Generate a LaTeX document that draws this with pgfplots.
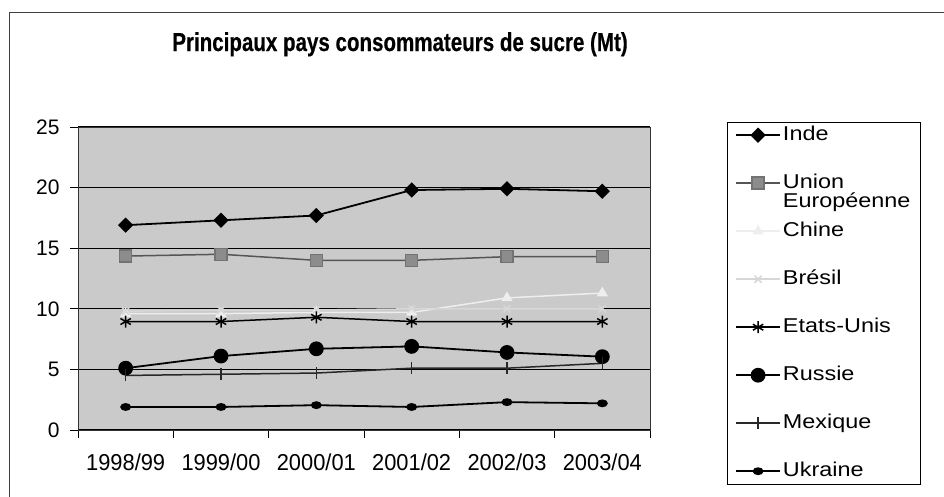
\documentclass[border=0pt]{standalone}
\usepackage{fontspec}
\setmainfont{Liberation Sans}
\newfontfamily\condfont[FakeStretch=0.95]{Liberation Sans}
\newfontfamily\titlefont[FakeStretch=0.79,FakeBold=0.4]{Liberation Sans}
\newfontfamily\legfont[FakeStretch=1.17]{Liberation Sans}
\usepackage{pgfplots}
\pgfplotsset{compat=1.18}
\definecolor{plotbg}{RGB}{202,202,202}
\definecolor{uegray}{RGB}{85,85,85}
\definecolor{uefill}{RGB}{140,140,140}
\definecolor{chinec}{RGB}{238,238,238}
\definecolor{bresilc}{RGB}{215,215,215}
\definecolor{mexc}{RGB}{40,40,40}
\begin{document}
\begin{tikzpicture}
\useasboundingbox (0,0) rectangle (944pt,496pt);
\begin{scope}
\clip (0,0) rectangle (944pt,496pt);
\draw[line width=1pt, black!75] (9pt,-30pt) rectangle (990pt,483pt);
\end{scope}
\begin{axis}[
  at={(78pt,66pt)}, anchor=south west,
  scale only axis, width=572pt, height=303pt,
  xmin=-0.5, xmax=5.5, ymin=0, ymax=25,
  axis background/.style={fill=plotbg},
  axis line style={draw=black!80, line width=0.9pt},
  ytick={0,5,...,25}, ymajorgrids,
  grid style={black, line width=1.1pt},
  tick align=outside, xtick pos=bottom, ytick pos=left,
  major tick length=8pt,
  tick style={black, line width=0.8pt},
  /pgf/number format/assume math mode=true,
  yticklabel style={font=\fontsize{21}{24}\selectfont, xshift=-7pt},
  xtick={-0.5,0.5,...,5.5}, xticklabels={},
  extra x ticks={0,1,2,3,4,5},
  extra x tick labels={1998/99,1999/00,2000/01,2001/02,2002/03,2003/04},
  extra x tick style={major tick length=0pt, grid=none},
  xticklabel style={font=\condfont\fontsize{23}{25}\selectfont, yshift=-20pt},
  title={Principaux pays consommateurs de sucre (Mt)},
  title style={at={(0.563,1.231)}, anchor=base, font=\titlefont\bfseries\fontsize{26}{28}\selectfont},
  legend style={at={(1.1346,1.0165)}, anchor=north west, draw=black, fill=white,
    inner xsep=8pt, inner ysep=1pt, row sep=24pt,
    font=\legfont\fontsize{20}{21}\selectfont,
    nodes={inner sep=2pt, text height=15pt, text depth=5pt},
    /tikz/every even column/.append style={column sep=2pt}},
  legend cell align=left,
  legend image code/.code={\draw[mark repeat=2,mark phase=2,#1] plot coordinates {(0pt,0pt) (22pt,0pt) (44pt,0pt)};},
]
\addplot[black, line width=1.8pt, mark=square*, mark size=4.5pt, mark options={rotate=45}]
  coordinates {(0,16.9) (1,17.3) (2,17.7) (3,19.8) (4,19.9) (5,19.7)};
\addlegendentry{Inde}
\addplot[uegray, line width=1.5pt, mark=square*, mark size=6pt, mark options={fill=uefill, draw=black!55}]
  coordinates {(0,14.35) (1,14.5) (2,14.0) (3,14.0) (4,14.3) (5,14.3)};
\addlegendentry{\begin{tabular}[t]{@{}l@{}}Union\\[-2pt]Européenne\end{tabular}}
\addplot[chinec, line width=1.5pt, mark=triangle*, mark size=5pt]
  coordinates {(0,9.6) (1,9.6) (2,9.7) (3,9.7) (4,10.9) (5,11.3)};
\addlegendentry{Chine}
\addplot[bresilc, line width=1.5pt, mark=x, mark size=5pt]
  coordinates {(0,9.8) (1,9.9) (2,9.9) (3,10.0) (4,10.0) (5,10.0)};
\addlegendentry{Brésil}
\addplot[black, line width=1.5pt, mark=asterisk, mark size=6pt]
  coordinates {(0,8.95) (1,8.95) (2,9.3) (3,8.95) (4,8.95) (5,8.95)};
\addlegendentry{Etats-Unis}
\addplot[black, line width=1.8pt, mark=*, mark size=6.5pt]
  coordinates {(0,5.1) (1,6.1) (2,6.7) (3,6.9) (4,6.4) (5,6.05)};
\addlegendentry{Russie}
\addplot[mexc, line width=1.5pt, mark=|, mark size=6pt]
  coordinates {(0,4.5) (1,4.6) (2,4.7) (3,5.1) (4,5.1) (5,5.5)};
\addlegendentry{Mexique}
\addplot[black, line width=1.8pt, mark=*, mark size=3pt, mark options={xscale=1.5}]
  coordinates {(0,1.9) (1,1.9) (2,2.05) (3,1.9) (4,2.3) (5,2.2)};
\addlegendentry{Ukraine}
\end{axis}
\end{tikzpicture}
\end{document}
